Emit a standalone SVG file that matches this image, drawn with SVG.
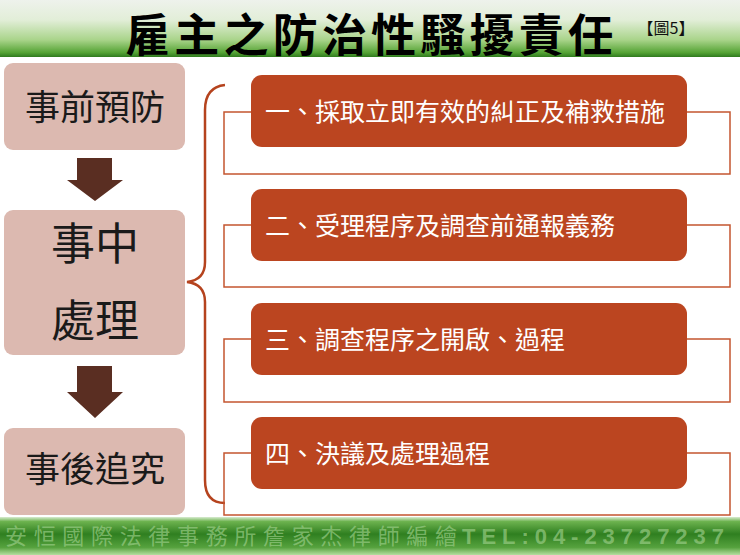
<svg xmlns="http://www.w3.org/2000/svg" width="740" height="555" viewBox="0 0 740 555">
<defs>
<linearGradient id="hdr" x1="0" y1="0" x2="0" y2="1">
<stop offset="0" stop-color="#eef2ec"/>
<stop offset="0.35" stop-color="#e2eed8"/>
<stop offset="0.7" stop-color="#a9d48a"/>
<stop offset="0.92" stop-color="#56a436"/>
<stop offset="1" stop-color="#2f7b1e"/>
</linearGradient>
<linearGradient id="ftr" x1="0" y1="0" x2="0" y2="1">
<stop offset="0" stop-color="#d8ecd0"/>
<stop offset="0.12" stop-color="#6cb24e"/>
<stop offset="0.45" stop-color="#2f7f20"/>
<stop offset="0.8" stop-color="#56a23e"/>
<stop offset="1" stop-color="#b6dea0"/>
</linearGradient>
<style>
.cjk{font-family:"Noto Sans CJK TC","Noto Sans CJK SC",sans-serif}
.pink{fill:#dcb9b0}
.ltxt{fill:#1a1a1a;text-anchor:middle}
.obox{fill:#bb4520}
.oline{fill:none;stroke:#c4552f;stroke-width:1.5}
.otxt{fill:#ffffff;font-size:25px}
.arrow{fill:#5a2e22}
.ftxt{fill:#9fd08c;fill-opacity:0.65}
</style>
</defs>
<rect width="740" height="555" fill="#ffffff"/>
<g id="header">
<rect x="0" y="0" width="740" height="57" fill="url(#hdr)"/>
<text class="cjk" x="125" y="52" font-size="45" font-weight="bold" fill="#000" textLength="488" lengthAdjust="spacing">雇主之防治性騷擾責任</text>
<text class="cjk" x="666" y="34" font-size="16" fill="#111" text-anchor="middle">【圖5】</text>
</g>
<g id="footer">
<rect x="0" y="517" width="740" height="38" fill="url(#ftr)"/>
<text class="cjk ftxt" x="5" y="544" font-size="22" textLength="452" lengthAdjust="spacing">安恒國際法律事務所詹家杰律師編繪</text>
<text class="ftxt" x="462" y="544" font-family="'Liberation Sans',Arial,sans-serif" font-size="22" font-weight="bold" textLength="262" lengthAdjust="spacing">TEL:04-23727237</text>
</g>
<g id="connectors">
<path class="arrow" d="M77,158 H112 V180 H123 L95,201 L67,180 H77 Z"/>
<path class="arrow" d="M77,366 H112 V392 H123 L95,418 L67,392 H77 Z"/>
<path d="M225,85 Q205,87 205,110 L205,262 Q205,280 187,282 Q205,284 205,302 L205,480 Q205,503 225,503" fill="none" stroke="#b5431e" stroke-width="2.5"/>
</g>
<g id="node-prevent">
<rect class="pink" x="4" y="63" width="181" height="87" rx="9"/>
<text class="cjk ltxt" x="95" y="120" font-size="35">事前預防</text>
</g>
<g id="node-handle">
<rect class="pink" x="4" y="210" width="181" height="145" rx="9"/>
<text class="cjk ltxt" x="95" y="260" font-size="44">事中</text>
<text class="cjk ltxt" x="95" y="337" font-size="44">處理</text>
</g>
<g id="node-after">
<rect class="pink" x="4" y="428" width="181" height="87" rx="9"/>
<text class="cjk ltxt" x="95" y="482" font-size="35">事後追究</text>
</g>
<g id="item-1">
<rect class="oline" x="224" y="112" width="506" height="62"/>
<rect class="obox" x="251" y="75" width="436" height="72" rx="11"/>
<text class="cjk otxt" x="265" y="120.5">一、採取立即有效的糾正及補救措施</text>
</g>
<g id="item-2">
<rect class="oline" x="224" y="225" width="506" height="62"/>
<rect class="obox" x="251" y="189" width="436" height="72" rx="11"/>
<text class="cjk otxt" x="265" y="234.5">二、受理程序及調查前通報義務</text>
</g>
<g id="item-3">
<rect class="oline" x="224" y="339" width="506" height="63"/>
<rect class="obox" x="251" y="303" width="436" height="72" rx="11"/>
<text class="cjk otxt" x="265" y="348.5">三、調查程序之開啟、過程</text>
</g>
<g id="item-4">
<rect class="oline" x="224" y="453" width="506" height="62"/>
<rect class="obox" x="251" y="417" width="436" height="72" rx="11"/>
<text class="cjk otxt" x="265" y="462.5">四、決議及處理過程</text>
</g>
</svg>
